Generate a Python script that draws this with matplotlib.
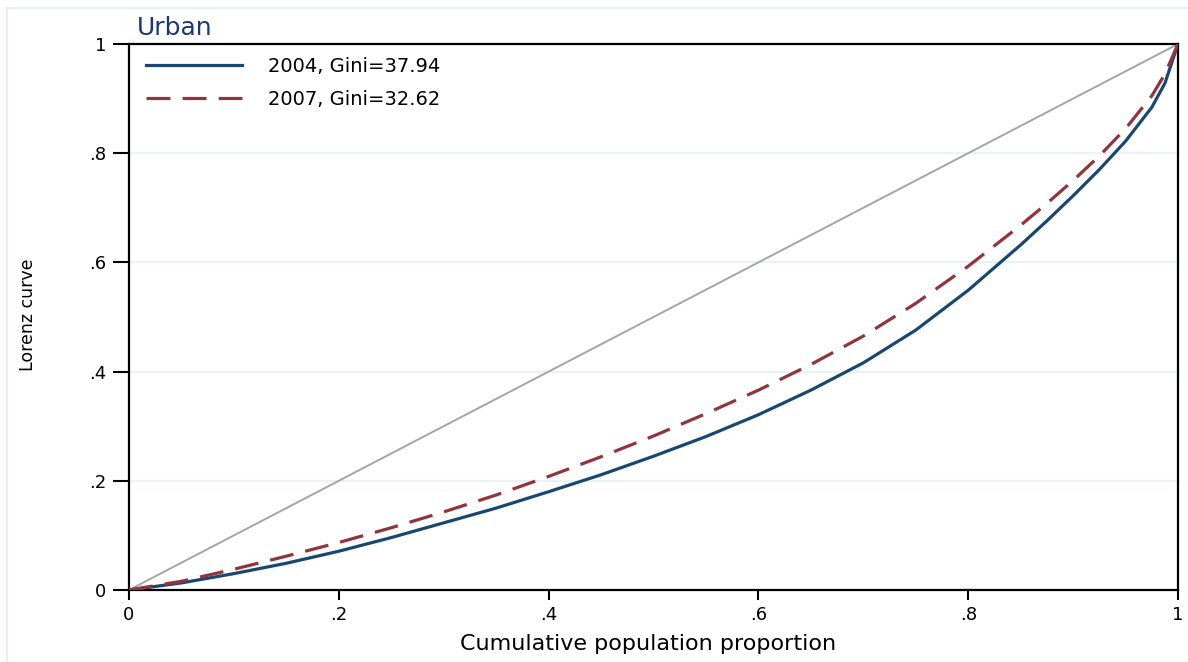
import matplotlib
matplotlib.use("Agg")
import matplotlib.pyplot as plt
from matplotlib.patches import Rectangle

# ---- data ----
pop_share = [0, 0.05, 0.10, 0.15, 0.20, 0.25, 0.30, 0.35, 0.40, 0.45, 0.50,
             0.55, 0.60, 0.65, 0.70, 0.75, 0.80, 0.85, 0.875, 0.90, 0.925, 0.95,
             0.975, 0.9875, 1.0]
lorenz_2004 = [0, 0.013, 0.030, 0.049, 0.071, 0.096, 0.123, 0.150, 0.180, 0.211, 0.245,
               0.281, 0.321, 0.366, 0.416, 0.476, 0.549, 0.632, 0.676, 0.722, 0.770, 0.822,
               0.884, 0.928, 1.0]
lorenz_2007 = [0, 0.016, 0.038, 0.062, 0.087, 0.114, 0.143, 0.174, 0.208, 0.244, 0.282,
               0.323, 0.366, 0.413, 0.465, 0.525, 0.593, 0.668, 0.708, 0.750, 0.795, 0.845,
               0.905, 0.945, 1.0]
equality = [0, 1]
labels = ["2004, Gini=37.94", "2007, Gini=32.62"]
ticks = [0, 0.2, 0.4, 0.6, 0.8, 1.0]
tick_labels = ["0", ".2", ".4", ".6", ".8", "1"]

plt.rcParams['font.family'] = ['DejaVu Sans']

W, H = 1188, 662
fig = plt.figure(figsize=(W / 100, H / 100), dpi=100)
fig.patch.set_facecolor('white')

# outer light frame (graph region border)
fig.patches.append(Rectangle((7 / W, -0.1), 1.2, 1 - 8 / H + 0.1, transform=fig.transFigure,
                             fill=False, edgecolor='#e6eff1', linewidth=1.6, zorder=0))

ax = fig.add_axes([129 / W, 1 - 590 / H, (1178 - 129) / W, (590 - 44) / H])
ax.set_xlim(0, 1)
ax.set_ylim(0, 1)

for y in ticks[1:-1]:
    ax.axhline(y, color='#eaf2f3', linewidth=1.6, zorder=0)

ax.plot(equality, equality, color='#a5a5a5', linewidth=1.4, zorder=2)
l1, = ax.plot(pop_share, lorenz_2004, color='#1a476f', linewidth=2.3, zorder=3,
              solid_joinstyle='round')
l2, = ax.plot(pop_share, lorenz_2007, color='#90353b', linewidth=2.3,
              dashes=(7.5, 3.8), zorder=4)

for s in ax.spines.values():
    s.set_linewidth(1.6)
    s.set_color('black')

ax.set_xticks(ticks)
ax.set_xticklabels(tick_labels)
ax.set_yticks(ticks)
ax.set_yticklabels(tick_labels)
ax.tick_params(axis='x', direction='out', length=7.5, width=1.5, labelsize=13,
               colors='black', pad=4)
ax.tick_params(axis='y', direction='out', length=11.5, width=1.5, labelsize=13,
               colors='black', pad=5)

ax.set_xlabel("Cumulative population proportion", fontsize=16)
ax.xaxis.set_label_coords((648 - 129) / (1178 - 129), -(644 - 590) / (590 - 44))
ax.xaxis.label.set_va('center')
ax.set_ylabel("Lorenz curve", fontsize=12.5)
ax.yaxis.set_label_coords(-(129 - 28) / (1178 - 129), (590 - 315) / (590 - 44))
ax.yaxis.label.set_va('center')

fig.text(137 / W, 1 - 28 / H, "Urban", fontsize=18, color='#1a3a6e',
         ha='left', va='center')

leg = ax.legend([l1, l2], labels, loc='upper left',
                bbox_to_anchor=(146 / W, 1 - 57 / H), bbox_transform=fig.transFigure,
                frameon=False, fontsize=14, handlelength=4.95, handletextpad=1.3,
                labelspacing=0.72, borderpad=0, borderaxespad=0)

fig.savefig("out.png", dpi=100, facecolor='white')
